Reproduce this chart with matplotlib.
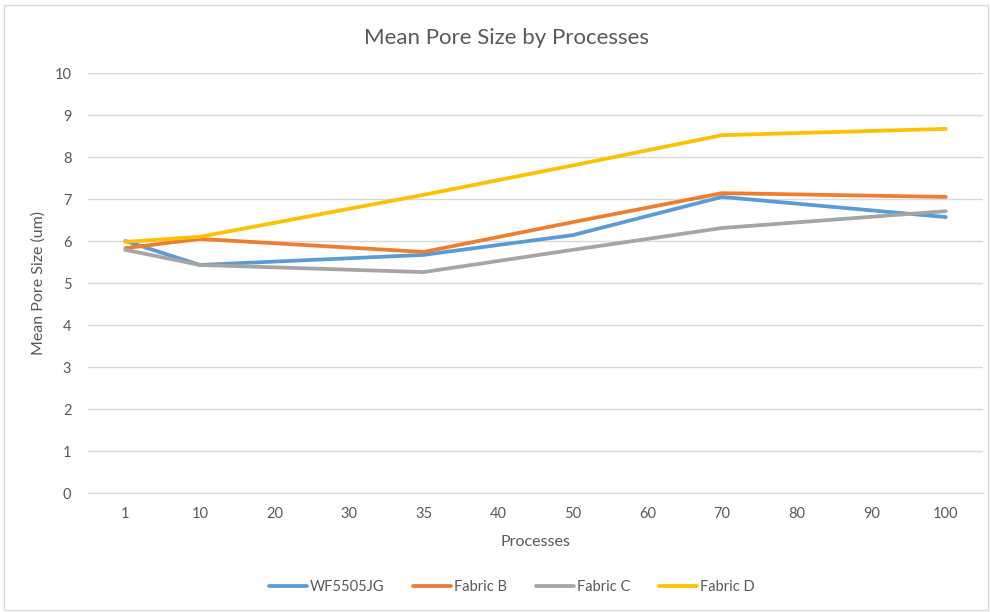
import numpy as np
import matplotlib
matplotlib.use("Agg")
import matplotlib.pyplot as plt
from matplotlib.patches import Rectangle
from matplotlib.lines import Line2D

plt.rcParams['font.family'] = ['Lato', 'DejaVu Sans']

categories = ["1", "10", "20", "30", "35", "40", "50", "60", "70", "80", "90", "100"]
measured = ["1", "10", "35", "50", "70", "100"]

wf5505jg = [6.00, 5.43, 5.67, 6.14, 7.05, 6.57]
fabric_b = [5.83, 6.05, 5.74, 6.45, 7.14, 7.05]
fabric_c = [5.79, 5.43, 5.26, 5.79, 6.31, 6.71]
fabric_d = [5.98, 6.10, 7.10, 7.80, 8.52, 8.67]

series = [
    ("WF5505JG", wf5505jg, "#5B9BD5"),
    ("Fabric B", fabric_b, "#ED7D31"),
    ("Fabric C", fabric_c, "#A5A5A5"),
    ("Fabric D", fabric_d, "#FFC000"),
]

text_color = "#595959"
grid_color = "#D9D9D9"
lw = 2.7

fig = plt.figure(figsize=(9.9, 6.12), dpi=100)
ax = fig.add_axes([0.0889, 0.1944, 0.9041, 0.6863])

xpos = [categories.index(c) for c in measured]
handles = []
for name, vals, col in series:
    ax.plot(xpos, vals, color=col, lw=lw, solid_capstyle='round',
            solid_joinstyle='round', label=name)
    handles.append(Line2D([0], [0], color=col, lw=lw, solid_capstyle='round'))

ax.set_xlim(-0.5, len(categories) - 0.5)
ax.set_ylim(0, 10)
ax.set_yticks(range(0, 11))
ax.set_xticks(range(len(categories)))
ax.set_xticklabels(categories)
ax.tick_params(axis='both', length=0, labelsize=10.5, colors=text_color)
ax.tick_params(axis='y', pad=12)
ax.tick_params(axis='x', pad=10)
ax.grid(axis='y', color=grid_color, lw=1)
ax.set_axisbelow(True)
for s in ['top', 'right', 'left']:
    ax.spines[s].set_visible(False)
ax.spines['bottom'].set_color(grid_color)

ax.set_xlabel("Processes", fontsize=11.5, color=text_color, labelpad=10)
ax.set_ylabel("Mean Pore Size (um)", fontsize=11.5, color=text_color, labelpad=6)

fig.text(0.512, 1 - 38 / 612, "Mean Pore Size by Processes", ha='center', va='center',
         fontsize=16, color=text_color)

leg = fig.legend(handles, [s[0] for s in series], loc='center', ncol=4,
                 bbox_to_anchor=(0.517, 1 - 587 / 612), frameon=False, fontsize=10.5,
                 handlelength=2.6, handletextpad=0.2, columnspacing=2.0)
for t in leg.get_texts():
    t.set_color(text_color)

fig.patches.append(Rectangle((4 / 990, 2 / 612), 984 / 990, 605 / 612, transform=fig.transFigure,
                             fill=False, edgecolor="#D9D9D9", lw=1))

fig.savefig("out.png", dpi=100, facecolor='white')
